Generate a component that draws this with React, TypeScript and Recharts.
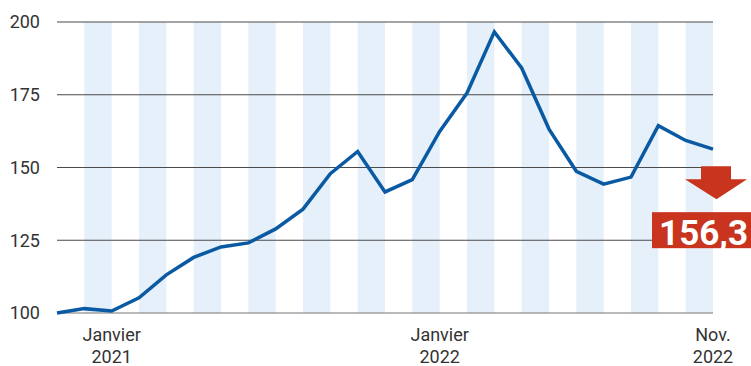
import React from 'react';
import { LineChart, Line, XAxis, YAxis, ReferenceArea, ReferenceLine } from 'recharts';

// monthly index, Nov. 2020 -> Nov. 2022
const months = [
    '2020-11', '2020-12', '2021-01', '2021-02', '2021-03', '2021-04', '2021-05', '2021-06', '2021-07',
    '2021-08', '2021-09', '2021-10', '2021-11', '2021-12', '2022-01', '2022-02', '2022-03', '2022-04',
    '2022-05', '2022-06', '2022-07', '2022-08', '2022-09', '2022-10', '2022-11',
];
const values = [
    100, 101.5, 100.7, 105.2, 113.1, 119.1, 122.7, 124.1, 128.9, 135.7, 147.9, 155.5, 141.6,
    145.8, 162.4, 175.6, 196.6, 184.2, 163.2, 148.7, 144.3, 146.7, 164.4, 159.3, 156.3,
];
const yTicks = [100, 125, 150, 175, 200];
const xTicks = [2, 14, 24];
const xTickLines: Record<number, [string, string]> = {
    2: ['Janvier', '2021'],
    14: ['Janvier', '2022'],
    24: ['Nov.', '2022'],
};

const data = values.map((v, i) => ({ i, month: months[i], value: v }));
// shaded bands every other month
const bands = months.map((_, i) => i).filter((i) => i % 2 === 1 && i < months.length - 1);

const FONT = 'Roboto, sans-serif';

const XTick = (props: any) => {
    const { x, y, payload } = props;
    const lines = xTickLines[payload.value] || ['', ''];
    return (
        <g>
            <text x={x} y={y + 20} textAnchor="middle" fill="#333" fontSize={18} fontFamily={FONT}>{lines[0]}</text>
            <text x={x} y={y + 42} textAnchor="middle" fill="#333" fontSize={18} fontFamily={FONT}>{lines[1]}</text>
        </g>
    );
};

const LastValue = (props: any) => {
    const { x, y, index, value } = props;
    if (index !== values.length - 1) return null;
    const red = '#c8341d';
    return (
        <g>
            <polygon
                points={`${x - 12},${y + 17} ${x + 18},${y + 17} ${x + 18},${y + 30} ${x + 34},${y + 30} ${x + 3.5},${y + 50} ${x - 28},${y + 30} ${x - 12},${y + 30}`}
                fill={red}
            />
            <rect x={x - 61} y={y + 63} width={100} height={36} fill={red} />
            <text x={x + 35} y={y + 96} textAnchor="end" fill="#fff" fontSize={35} fontWeight={700} fontFamily={FONT}>
                {Number(value).toFixed(1).replace('.', ',')}
            </text>
        </g>
    );
};

const App: React.FC = () => {
    return (
        <div style={{ position: 'absolute', left: 0, top: 0 }}>
            <LineChart width={751} height={366} data={data} margin={{ top: 22, right: 38, left: 0, bottom: 0 }}>
                {bands.map((b) => (
                    <ReferenceArea key={b} x1={b} x2={b + 1} y1={100} y2={200} fill="#e6f0fa" fillOpacity={1} stroke="none" ifOverflow="hidden" />
                ))}
                {yTicks.map((t) => (
                    <ReferenceLine key={t} y={t} stroke={t === 100 ? '#777' : '#4a4a4a'} strokeWidth={1.2} />
                ))}
                <XAxis
                    dataKey="i"
                    type="number"
                    domain={[0, 24]}
                    ticks={xTicks}
                    axisLine={false}
                    tickLine={false}
                    tick={<XTick />}
                    interval={0}
                    height={53}
                />
                <YAxis
                    domain={[100, 200]}
                    ticks={yTicks}
                    width={57}
                    axisLine={false}
                    tickLine={false}
                    tickSize={0}
                    tickMargin={17}
                    tick={{ fill: '#333', fontSize: 18, fontFamily: FONT }}
                />
                <Line
                    type="linear"
                    dataKey="value"
                    stroke="#0a5aa3"
                    strokeWidth={3.5}
                    dot={false}
                    activeDot={false}
                    isAnimationActive={false}
                    label={<LastValue />}
                />
            </LineChart>
        </div>
    );
};

export default App;
